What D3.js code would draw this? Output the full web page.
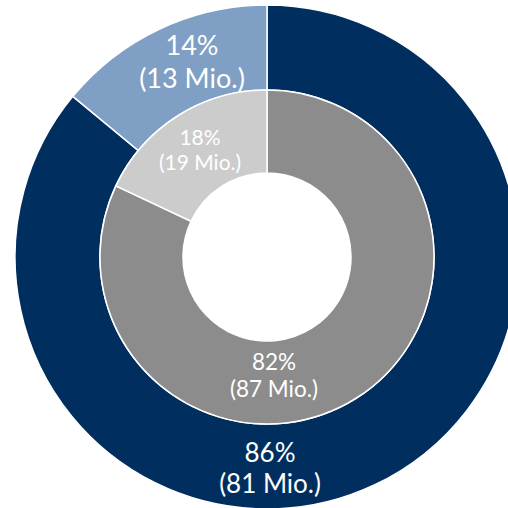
<!DOCTYPE html>
<html><head><meta charset="utf-8">
<script src="https://cdn.jsdelivr.net/npm/d3@7"></script>
<style>html,body{margin:0;padding:0;background:#fff;overflow:hidden}</style>
</head><body>
<svg id="c" width="508" height="508"></svg>
<script>
const outerCategories = ["A", "B"];
const outerValues = [86, 14];
const outerMio = [81, 13];
const innerCategories = ["A", "B"];
const innerValues = [82, 18];
const innerMio = [87, 19];
const outerColors = ["#002F5F", "#7F9FC4"];
const innerColors = ["#8C8C8C", "#CCCCCC"];

const svg = d3.select("#c");
const cx = 267, cy = 257;
const g = svg.append("g").attr("transform", `translate(${cx},${cy})`);
const pie = d3.pie().sort(null).value(d => d);

const outerArc = d3.arc().innerRadius(167).outerRadius(252);
const innerArc = d3.arc().innerRadius(84).outerRadius(167);

g.selectAll("path.o").data(pie(outerValues)).join("path")
  .attr("class", "o").attr("d", outerArc)
  .attr("fill", (d, i) => outerColors[i]).attr("stroke", "#fff").attr("stroke-width", 1.5);
g.selectAll("path.i").data(pie(innerValues)).join("path")
  .attr("class", "i").attr("d", innerArc)
  .attr("fill", (d, i) => innerColors[i]).attr("stroke", "#fff").attr("stroke-width", 1.5);

// label layout: [x, y, font-size, line gap] relative to centre
const outerLabelPos = [[3, 205, 26, 31], [-75, -202, 27, 33]];
const innerLabelPos = [[7, 113, 22.5, 27], [-67, -112, 21, 25]];
function labels(values, mio, pos) {
  values.forEach((v, i) => {
    const [x, y, fs, gap] = pos[i];
    const t = g.append("text").attr("text-anchor", "middle").attr("fill", "#fff")
      .attr("font-family", "Lato, 'Open Sans', sans-serif")
      .attr("font-size", fs).attr("x", x).attr("y", y);
    t.append("tspan").attr("x", x).attr("dy", 0).text(v + "%");
    t.append("tspan").attr("x", x).attr("dy", gap).text("(" + mio[i] + " Mio.)");
  });
}
labels(outerValues, outerMio, outerLabelPos);
labels(innerValues, innerMio, innerLabelPos);
</script>
</body></html>
